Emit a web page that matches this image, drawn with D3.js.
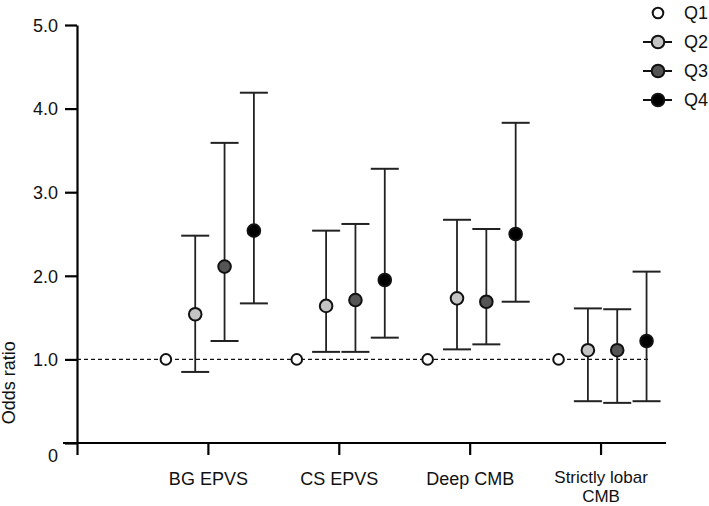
<!DOCTYPE html>
<html>
<head>
<meta charset="utf-8">
<script src="https://cdn.jsdelivr.net/npm/d3@7"></script>
<style>
  body { margin: 0; background: #fff; }
  svg { font-family: "Liberation Sans", Arial, sans-serif; }
</style>
</head>
<body>
<div id="vis"></div>
<script>
// categories, quartile groups and odds ratios
const categories = ["BG EPVS", "CS EPVS", "Deep CMB", "Strictly lobar CMB"];
const quartiles = ["Q1", "Q2", "Q3", "Q4"];
const fills = ["#ffffff", "#c4c4c4", "#555555", "#000000"];

// one row per category, one value per quartile
const oddsRatio = [
  [1.0, 1.54, 2.11, 2.54],
  [1.0, 1.64, 1.71, 1.95],
  [1.0, 1.73, 1.69, 2.50],
  [1.0, 1.11, 1.11, 1.22]
];
const lowerCI = [
  [null, 0.85, 1.22, 1.67],
  [null, 1.09, 1.09, 1.26],
  [null, 1.12, 1.18, 1.69],
  [null, 0.50, 0.48, 0.50]
];
const upperCI = [
  [null, 2.48, 3.59, 4.19],
  [null, 2.54, 2.62, 3.28],
  [null, 2.67, 2.56, 3.83],
  [null, 1.61, 1.60, 2.05]
];
const yTicks = [0, 1, 2, 3, 4, 5];

const width = 709, height = 506;

const svg = d3.select("#vis").append("svg")
  .attr("width", width)
  .attr("height", height);

// scales
const x = d3.scaleLinear().domain([0, 4.5]).range([77, 666]);
const y = d3.scaleLinear().domain([0, 5]).range([443, 25]);
const offset = d3.scalePoint().domain(quartiles).range([-42, 46]);

// y axis
const yAxis = svg.append("g")
  .attr("transform", `translate(${x(0)},0)`)
  .call(d3.axisLeft(y).tickValues(yTicks).tickSize(12).tickSizeOuter(0)
    .tickFormat(d => d === 0 ? "0" : d3.format(".1f")(d)));
yAxis.select(".domain").attr("stroke-width", 2.2);
yAxis.selectAll(".tick line").attr("stroke-width", 2.2);
yAxis.selectAll(".tick text")
  .attr("font-size", 18).attr("fill", "#111").attr("x", -19)
  .attr("dy", d => d === 0 ? "1.0em" : "0.35em");

// x axis
const xAxis = svg.append("g")
  .attr("transform", `translate(0,${y(0)})`)
  .call(d3.axisBottom(x).tickValues([0, 1, 2, 3, 4]).tickSize(12).tickSizeOuter(0)
    .tickFormat(d => d === 0 ? "" : categories[d - 1]));
xAxis.select(".domain").attr("stroke-width", 2.2)
  .attr("d", `M${x(0) - 14},0H${x(4.5)}`);
xAxis.selectAll(".tick line").attr("stroke-width", 2.2);
xAxis.selectAll(".tick text")
  .attr("font-size", 18).attr("fill", "#111").attr("y", 0).attr("dy", 0)
  .each(function(d) {
    if (d === 0) return;
    const t = d3.select(this).text("");
    if (categories[d - 1] === "Strictly lobar CMB") {
      // two lines, squeezed to fit above the bottom edge
      t.attr("font-size", 17);
      t.append("tspan").attr("x", 0).attr("y", 40).text("Strictly lobar");
      t.append("tspan").attr("x", 0).attr("y", 59).text("CMB");
    } else {
      t.append("tspan").attr("x", 0).attr("y", 42).text(categories[d - 1]);
    }
  });

// y axis title
svg.append("text")
  .attr("transform", `translate(15,${y(0.72)}) rotate(-90)`)
  .attr("text-anchor", "middle")
  .attr("font-size", 18)
  .attr("fill", "#111")
  .text("Odds ratio");

// reference line at OR = 1
svg.append("line")
  .attr("x1", x(0)).attr("x2", x(4.37))
  .attr("y1", y(1)).attr("y2", y(1))
  .attr("stroke", "#111").attr("stroke-width", 1.3)
  .attr("stroke-dasharray", "4,3");

// flatten into points
const points = [];
categories.forEach((c, i) => {
  quartiles.forEach((q, j) => {
    points.push({cat: i + 1, q: q, j: j, or: oddsRatio[i][j], lo: lowerCI[i][j], hi: upperCI[i][j]});
  });
});

const g = svg.append("g");
const bars = points.filter(d => d.lo !== null);

g.selectAll("line.ci")
  .data(bars)
  .join("line")
  .attr("class", "ci")
  .attr("x1", d => x(d.cat) + offset(d.q)).attr("x2", d => x(d.cat) + offset(d.q))
  .attr("y1", d => y(d.lo)).attr("y2", d => y(d.hi))
  .attr("stroke", "#222").attr("stroke-width", 1.8);

["lo", "hi"].forEach(k => {
  g.selectAll("line.cap-" + k)
    .data(bars)
    .join("line")
    .attr("class", "cap-" + k)
    .attr("x1", d => x(d.cat) + offset(d.q) - 14).attr("x2", d => x(d.cat) + offset(d.q) + 14)
    .attr("y1", d => y(d[k])).attr("y2", d => y(d[k]))
    .attr("stroke", "#222").attr("stroke-width", 2);
});

g.selectAll("circle.pt")
  .data(points)
  .join("circle")
  .attr("class", "pt")
  .attr("cx", d => x(d.cat) + offset(d.q))
  .attr("cy", d => y(d.or))
  .attr("r", d => d.j === 0 ? 5.3 : 6.3)
  .attr("fill", d => fills[d.j])
  .attr("stroke", "#111").attr("stroke-width", 2);

// legend
const legend = svg.append("g").attr("transform", "translate(658,13)");
const items = legend.selectAll("g")
  .data(quartiles)
  .join("g")
  .attr("transform", (d, i) => `translate(0,${i * 29})`);
items.filter((d, i) => i > 0).append("line")
  .attr("x1", -15).attr("x2", 14)
  .attr("stroke", "#111").attr("stroke-width", 2);
items.append("circle")
  .attr("r", (d, i) => i === 0 ? 5.3 : 6.3)
  .attr("fill", (d, i) => fills[i])
  .attr("stroke", "#111").attr("stroke-width", 2);
items.append("text")
  .attr("x", 26).attr("dy", "0.35em")
  .attr("font-size", 18).attr("fill", "#111")
  .text(d => d);
</script>
</body>
</html>
